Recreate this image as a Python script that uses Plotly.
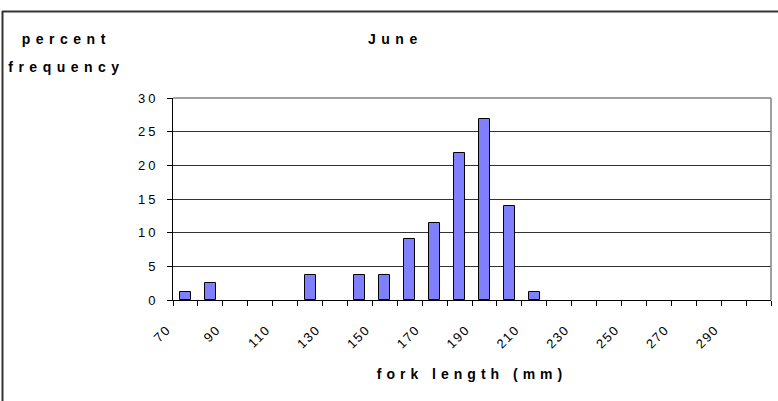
import plotly.graph_objects as go

# fork length bins (lower edge, mm) and percent frequency
bin_start = [70, 80, 90, 100, 110, 120, 130, 140, 150, 160, 170, 180,
             190, 200, 210, 220, 230, 240, 250, 260, 270, 280, 290, 300]
percent = [1.2, 2.5, 0, 0, 0, 3.7, 0, 3.7, 3.7, 9.0, 11.5, 21.8,
           26.9, 14.0, 1.2, 0, 0, 0, 0, 0, 0, 0, 0, 0]
tick_vals = list(range(70, 320, 10))
tick_text = [str(v) if (v - 70) % 20 == 0 and v < 300 else "" for v in tick_vals]

bin_width = 10
# empty bins draw nothing in the original
xs = [b + bin_width / 2 for b, p in zip(bin_start, percent) if p > 0]
ys = [p for p in percent if p > 0]

fig = go.Figure(go.Bar(x=xs, y=ys, width=4.4,
                       marker=dict(color="#8080FF", line=dict(color="black", width=1))))

# plot area: px 173..771 horizontally, 98..300 vertically
L, R, T, B = 173, 771, 98, 300
def px(x):
    return (x - L) / (R - L)
def py(y):
    return (B - y) / (B - T)

fig.update_layout(
    width=778, height=401,
    margin=dict(l=L, r=778 - R, t=T, b=401 - B),
    paper_bgcolor="white", plot_bgcolor="white",
    font=dict(family="Liberation Sans, Arial", color="black", size=12),
    showlegend=False,
    bargap=0,
    xaxis=dict(range=[70, 310], tickvals=tick_vals, ticktext=tick_text,
               tickangle=-45, ticks="outside", ticklen=5, tickcolor="black",
               showline=True, linecolor="black", linewidth=1, showgrid=False,
               zeroline=False, tickfont=dict(size=13), automargin=False,
               ticklabelstandoff=11, ticklabelshift=-6,
               title=dict(text="<b>fork length (mm)</b>", font=dict(size=14), standoff=22)),
    yaxis=dict(range=[0, 30], dtick=5, ticks="outside", ticklen=5, tickcolor="black",
               showline=True, linecolor="black", linewidth=1, automargin=False,
               showgrid=True, gridcolor="#333333", gridwidth=1, zeroline=False,
               tickfont=dict(size=13), ticklabelstandoff=6),
    shapes=[
        # plot area frame top and right (grey)
        dict(type="line", xref="paper", yref="paper", x0=0, x1=1, y0=1, y1=1,
             line=dict(color="#808080", width=1.5)),
        dict(type="line", xref="paper", yref="paper", x0=1, x1=1, y0=0, y1=1,
             line=dict(color="#808080", width=1.5)),
        # chart area border (top and left)
        dict(type="line", xref="paper", yref="paper", x0=px(2), x1=px(778), y0=py(11.5), y1=py(11.5),
             line=dict(color="#333333", width=2)),
        dict(type="line", xref="paper", yref="paper", x0=px(2.5), x1=px(2.5), y0=py(11), y1=py(401),
             line=dict(color="#333333", width=2)),
    ],
    annotations=[
        dict(text="<b>June</b>", xref="paper", yref="paper", x=px(395), y=py(39),
             xanchor="center", yanchor="middle", showarrow=False, font=dict(size=14)),
        dict(text="<b>percent</b>", xref="paper", yref="paper", x=px(66), y=py(39),
             xanchor="center", yanchor="middle", showarrow=False, font=dict(size=14)),
        dict(text="<b>frequency</b>", xref="paper", yref="paper", x=px(66), y=py(67),
             xanchor="center", yanchor="middle", showarrow=False, font=dict(size=14)),
    ],
)

spacing_js = """
document.body.style.margin = '0';
var gd = document.getElementById('{plot_id}');
function spaceText() {
  gd.querySelectorAll('.annotation-text').forEach(function(t){ t.style.letterSpacing = '5.5px'; });
  gd.querySelectorAll('.g-xtitle text').forEach(function(t){ t.style.letterSpacing = '5px'; });
  gd.querySelectorAll('.ytick text').forEach(function(t){ t.style.letterSpacing = '3px'; });
  gd.querySelectorAll('.xtick text').forEach(function(t){ t.style.letterSpacing = '1.5px'; });
}
spaceText();
gd.on('plotly_afterplot', spaceText);
"""

fig.write_html("out.html", post_script=spacing_js, config={"displayModeBar": False})
